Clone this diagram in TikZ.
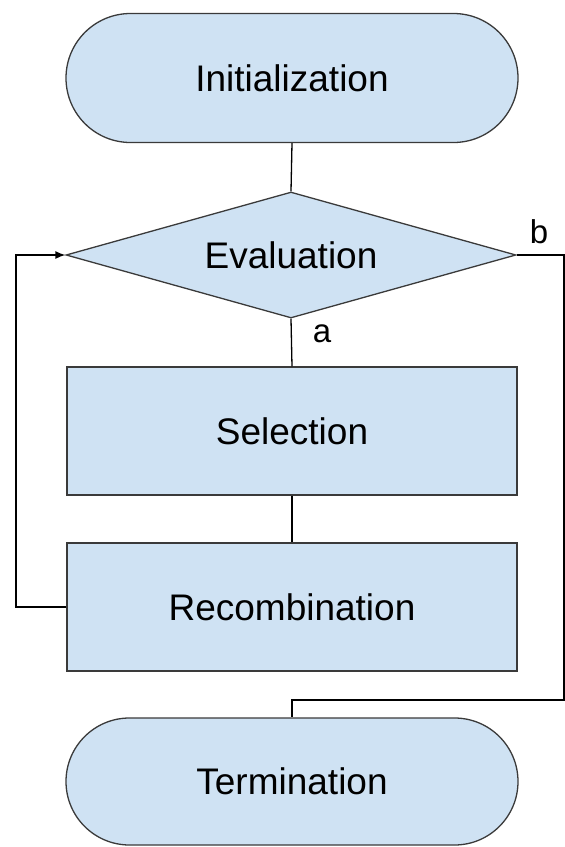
\documentclass[tikz,border=0pt]{standalone}
\usepackage{fontspec}
\setmainfont{Liberation Sans}
\usetikzlibrary{shapes.geometric,shapes.misc,arrows.meta}
\definecolor{boxfill}{HTML}{CFE2F3}
\definecolor{boxline}{HTML}{3A3A3A}
\tikzset{
  base/.style={fill=boxfill,draw=boxline,line width=1.3pt,inner sep=0pt,
    font=\fontsize{37}{44}\selectfont},
  term/.style={base,rounded rectangle,minimum width=452pt,minimum height=129pt},
  decide/.style={base,diamond,minimum width=450pt,minimum height=126pt,aspect=3.57},
  proc/.style={base,rectangle,minimum width=450pt,minimum height=128pt},
  conn/.style={line width=1.3pt,draw=black},
  lbl/.style={font=\fontsize{33}{40}\selectfont,anchor=base,inner sep=0pt}
}
\begin{document}
\begin{tikzpicture}[x=1pt,y=-1pt]
\useasboundingbox (0,0) rectangle (565,847);
\node[term] (init) at (292,78) {Initialization};
\node[decide] (eval) at (291,255) {Evaluation};
\node[proc] (sel) at (292,431) {Selection};
\node[proc] (rec) at (292,607) {Recombination};
\node[term,minimum height=127pt] (term) at (292,781.5) {Termination};
\node[lbl] (la) at (322,342) {a};
\node[lbl] (lb) at (539,243) {b};
\coordinate (lc) at (16,607);
\coordinate (rc) at (564,700);
\draw[conn] (init.south) -- (eval.north);
\draw[conn] (eval.south) -- (sel.north);
\draw[conn] (sel.south) -- (rec.north);
\draw[conn,-{Latex[length=10pt,width=8pt]}] (rec.west) -- (lc) |- (eval.west);
\draw[conn] (eval.east) -| (rc) -| (term.north);
\end{tikzpicture}
\end{document}
